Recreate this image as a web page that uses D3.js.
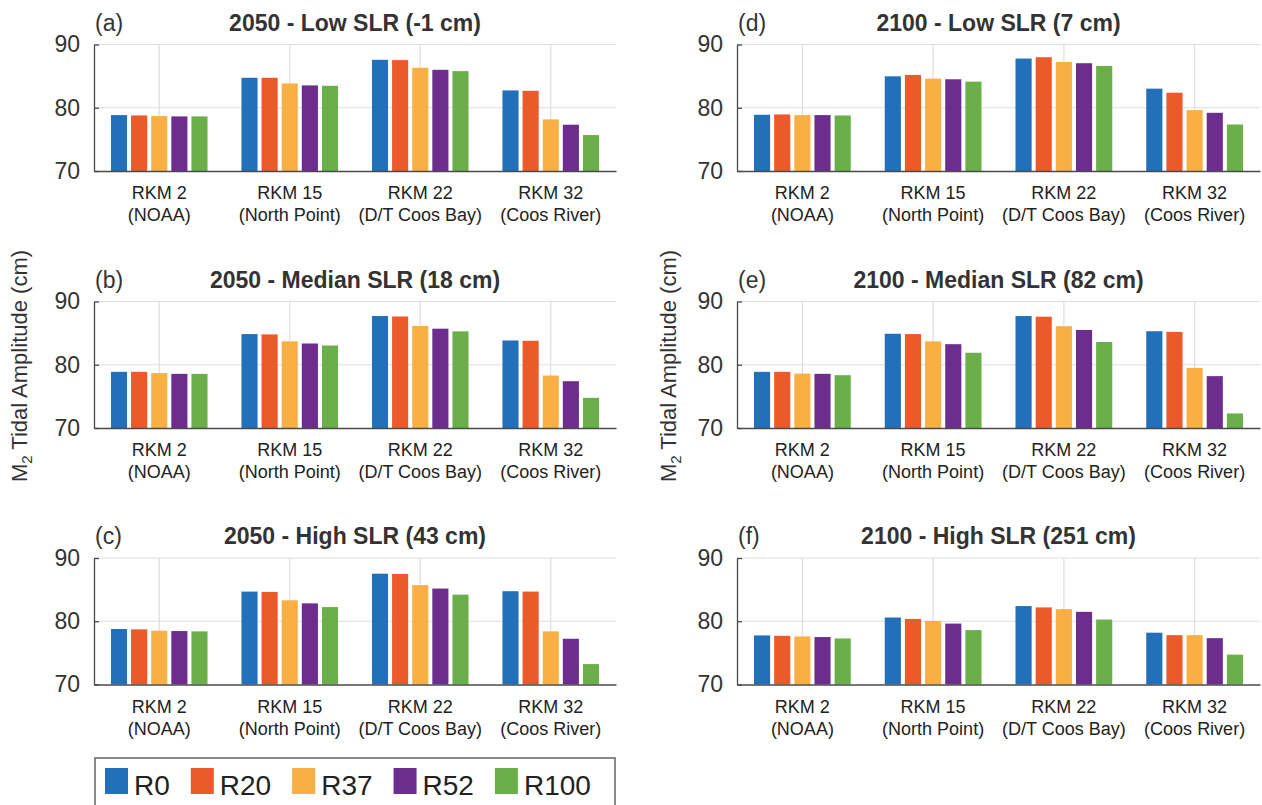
<!DOCTYPE html>
<html>
<head>
<meta charset="utf-8">
<script src="https://cdn.jsdelivr.net/npm/d3@7"></script>
<style>
  html, body { margin: 0; padding: 0; background: #fff; }
  svg { display: block; font-family: "Liberation Sans", Arial, sans-serif; }
</style>
</head>
<body>
<div id="chart"></div>
<script>
// M2 tidal amplitude under SLR scenarios, 6 panels
const sites = ["RKM 2", "RKM 15", "RKM 22", "RKM 32"];
const siteNotes = ["(NOAA)", "(North Point)", "(D/T Coos Bay)", "(Coos River)"];
const seriesNames = ["R0", "R20", "R37", "R52", "R100"];
const seriesColors = ["#2170b9", "#ec5a2b", "#f8b045", "#6c2d8e", "#6aaf4a"];
const yTicks = [70, 80, 90];

const panelLetters = ["(a)", "(b)", "(c)", "(d)", "(e)", "(f)"];
const panelTitles = [
    "2050 - Low SLR (-1 cm)",
    "2050 - Median SLR (18 cm)",
    "2050 - High SLR (43 cm)",
    "2100 - Low SLR (7 cm)",
    "2100 - Median SLR (82 cm)",
    "2100 - High SLR (251 cm)"
];

// values per site, in series order R0..R100
const values2050Low = [
    [78.84, 78.79, 78.68, 78.63, 78.63],
    [84.74, 84.74, 83.84, 83.53, 83.47],
    [87.58, 87.53, 86.32, 86.00, 85.79],
    [82.74, 82.68, 78.16, 77.32, 75.68]
];
const values2050Median = [
    [78.88, 78.88, 78.67, 78.56, 78.56],
    [84.85, 84.80, 83.70, 83.36, 83.04],
    [87.70, 87.63, 86.13, 85.70, 85.28],
    [83.84, 83.79, 78.30, 77.40, 74.77]
];
const values2050High = [
    [78.77, 78.72, 78.50, 78.45, 78.40],
    [84.69, 84.64, 83.31, 82.83, 82.24],
    [87.52, 87.47, 85.71, 85.17, 84.21],
    [84.75, 84.69, 78.40, 77.23, 73.23]
];
const values2100Low = [
    [78.89, 78.94, 78.84, 78.84, 78.78],
    [84.97, 85.19, 84.60, 84.50, 84.13],
    [87.78, 87.99, 87.25, 87.04, 86.61],
    [83.02, 82.38, 79.63, 79.20, 77.35]
];
const values2100Median = [
    [78.88, 78.88, 78.60, 78.56, 78.35],
    [84.90, 84.85, 83.70, 83.25, 81.90],
    [87.70, 87.60, 86.10, 85.50, 83.60],
    [85.30, 85.20, 79.50, 78.20, 72.30]
];
const values2100High = [
    [77.76, 77.70, 77.60, 77.50, 77.28],
    [80.59, 80.37, 80.05, 79.63, 78.60],
    [82.40, 82.19, 81.92, 81.49, 80.27],
    [78.19, 77.80, 77.80, 77.33, 74.72]
];
const panelValues = [values2050Low, values2050Median, values2050High,
                     values2100Low, values2100Median, values2100High];

const width = 1262, height = 805;
const colX = [[94, 616], [737, 1260]];
const rowY = [[44.5, 171], [301.5, 428], [558, 684.5]];

const svg = d3.select("#chart").append("svg")
    .attr("width", width)
    .attr("height", height)
    .attr("viewBox", `0 0 ${width} ${height}`);

function drawPanel(i) {
    const col = Math.floor(i / 3), row = i % 3;
    const [x0, x1] = colX[col];
    const [yTop, yBot] = rowY[row];
    const data = panelValues[i];

    const x = d3.scaleBand().domain(sites).range([x0, x1])
        .paddingInner(0.26).paddingOuter(0.13);
    const xs = d3.scaleBand().domain(seriesNames).range([0, x.bandwidth()])
        .paddingInner(0.2).paddingOuter(0);
    const y = d3.scaleLinear().domain([70, 90]).range([yBot, yTop]);

    const g = svg.append("g");

    // grid
    g.selectAll("line.hgrid").data(yTicks.slice(1)).join("line")
        .attr("x1", x0).attr("x2", x1)
        .attr("y1", d => y(d)).attr("y2", d => y(d))
        .attr("stroke", "#dedede").attr("stroke-width", 1.2);
    g.selectAll("line.vgrid").data(sites).join("line")
        .attr("x1", d => x(d) + x.bandwidth() / 2).attr("x2", d => x(d) + x.bandwidth() / 2)
        .attr("y1", yTop).attr("y2", yBot)
        .attr("stroke", "#dedede").attr("stroke-width", 1.2);

    // bars
    sites.forEach((s, si) => {
        g.selectAll(null).data(data[si]).join("rect")
            .attr("x", (d, k) => x(s) + xs(seriesNames[k]))
            .attr("y", d => y(d))
            .attr("width", xs.bandwidth())
            .attr("height", d => y(70) - y(d))
            .attr("fill", (d, k) => seriesColors[k]);
    });

    // axes
    const yAxis = g.append("g")
        .attr("transform", `translate(${x0},0)`)
        .call(d3.axisLeft(y).tickValues(yTicks).tickSizeInner(-5).tickSizeOuter(0).tickPadding(14));
    yAxis.select(".domain").attr("stroke", "#4a4a4a").attr("stroke-width", 1.3);
    yAxis.selectAll(".tick line").attr("stroke", "#4a4a4a").attr("stroke-width", 1.3);
    yAxis.selectAll(".tick text")
        .attr("font-size", "23px")
        .attr("fill", "#333")
        .attr("font-family", "Liberation Sans, Arial, sans-serif");

    const xAxis = g.append("g")
        .attr("transform", `translate(0,${yBot})`)
        .call(d3.axisBottom(x).tickSize(0).tickFormat(""));
    xAxis.select(".domain").attr("stroke", "#4a4a4a").attr("stroke-width", 1.3);

    // category labels, two lines
    const lab = g.selectAll("text.cat").data(sites).join("text")
        .attr("text-anchor", "middle")
        .attr("font-size", "18px")
        .attr("fill", "#222");
    lab.append("tspan")
        .attr("x", d => x(d) + x.bandwidth() / 2)
        .attr("y", yBot + 28)
        .text(d => d);
    lab.append("tspan")
        .attr("x", d => x(d) + x.bandwidth() / 2)
        .attr("y", yBot + 50)
        .text((d, k) => siteNotes[k]);

    // panel letter and title
    g.append("text")
        .attr("x", x0 + 1).attr("y", yTop - 14)
        .attr("font-size", "23px").attr("fill", "#333")
        .text(panelLetters[i]);
    g.append("text")
        .attr("x", (x0 + x1) / 2).attr("y", yTop - 14)
        .attr("text-anchor", "middle")
        .attr("font-size", "23px").attr("font-weight", "bold").attr("fill", "#333")
        .text(panelTitles[i]);
}

for (let i = 0; i < 6; i++) drawPanel(i);

// y-axis titles
[27, 676].forEach(cx => {
    const t = svg.append("text")
        .attr("transform", `translate(${cx},366) rotate(-90)`)
        .attr("text-anchor", "middle")
        .attr("font-size", "22px")
        .attr("fill", "#333");
    t.append("tspan").text("M");
    t.append("tspan").attr("font-size", "15px").attr("dy", "5").text("2");
    t.append("tspan").attr("dy", "-5").text(" Tidal Amplitude (cm)");
});

// legend
const legend = svg.append("g");
legend.append("rect")
    .attr("x", 95).attr("y", 758)
    .attr("width", 520).attr("height", 70)
    .attr("fill", "#fff").attr("stroke", "#666").attr("stroke-width", 1.5);
let lx = 105;
seriesNames.forEach((name, k) => {
    legend.append("rect")
        .attr("x", lx).attr("y", 768)
        .attr("width", 23).attr("height", 26)
        .attr("fill", seriesColors[k]);
    const txt = legend.append("text")
        .attr("x", lx + 29).attr("y", 795)
        .attr("font-size", "28px").attr("fill", "#222")
        .text(name);
    lx += 29 + txt.node().getComputedTextLength() + 21;
});
</script>
</body>
</html>
